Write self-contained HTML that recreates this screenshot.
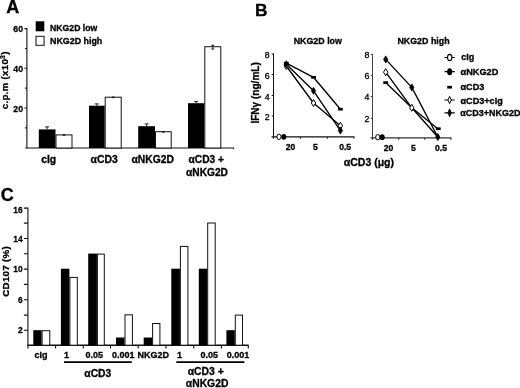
<!DOCTYPE html>
<html><head><meta charset="utf-8"><title>Figure</title>
<style>
html,body{margin:0;padding:0;background:#fff;}
body{width:520px;height:388px;overflow:hidden;}
svg{display:block;filter:blur(0.45px);}
text{font-family:"Liberation Sans",Arial,Helvetica,sans-serif;fill:#000;stroke:#000;stroke-width:0.3px;}
.b{font-weight:bold;}
.ax{stroke:#111;stroke-width:1.1;fill:none;}
.bk{fill:#000;stroke:none;}
.wh{fill:#fff;stroke:#111;stroke-width:1;}
.ln{stroke:#000;stroke-width:1.35;fill:none;stroke-linejoin:round;}
.eb{stroke:#111;stroke-width:0.9;fill:none;}
</style></head>
<body>
<svg width="520" height="388" viewBox="0 0 520 388">
<rect width="520" height="388" fill="#fff"/>
<g id="pA">
<text class="b" transform="translate(6.2,12.5)" font-size="18" text-anchor="start">A</text>
<path class="ax" d="M26.9 28.10V148.0H233.6V149.3"/>
<path class="ax" d="M24.5 108.00H26.9 M24.5 68.30H26.9 M24.5 28.60H26.9 M25.099999999999998 127.85H26.9 M25.099999999999998 88.15H26.9 M25.099999999999998 48.45H26.9 M25.299999999999997 148.0H26.9"/>
<text class="b" transform="translate(23.1,111.8) scale(0.9,1)" font-size="9.8" text-anchor="end">20</text>
<text class="b" transform="translate(23.1,72.1) scale(0.9,1)" font-size="9.8" text-anchor="end">40</text>
<text class="b" transform="translate(23.1,32.4) scale(0.9,1)" font-size="9.8" text-anchor="end">60</text>
<text class="b" transform="translate(7.6,80.3) rotate(-90)" font-size="9.7" text-anchor="middle" letter-spacing="0.3">c.p.m (x10<tspan font-size="6.8" dy="-3">3</tspan><tspan dy="3">)</tspan></text>
<rect class="bk" x="35.7" y="21.3" width="8.6" height="10"/>
<rect class="wh" x="36.0" y="36.4" width="8.1" height="9" style="stroke:#444;stroke-width:1.3"/>
<text class="b" transform="translate(50,30.6)" font-size="8.7" text-anchor="start">NKG2D low</text>
<text class="b" transform="translate(50,44.3)" font-size="8.9" text-anchor="start">NKG2D high</text>
<rect class="bk" x="38.80" y="129.40" width="16.70" height="18.60"/>
<rect class="wh" x="56.00" y="134.90" width="16.00" height="13.10"/>
<rect x="62.7" y="134.3" width="2.6" height="1.5" fill="#111"/>
<rect class="bk" x="89.00" y="105.70" width="15.70" height="42.30"/>
<rect class="wh" x="105.20" y="97.20" width="16.00" height="50.80"/>
<rect x="111.9" y="96.6" width="2.6" height="1.5" fill="#111"/>
<rect class="bk" x="138.20" y="126.20" width="16.80" height="21.80"/>
<rect class="wh" x="155.50" y="131.70" width="15.70" height="16.30"/>
<rect x="162.0" y="131.1" width="2.6" height="1.5" fill="#111"/>
<rect class="bk" x="188.00" y="103.20" width="16.30" height="44.80"/>
<rect class="wh" x="204.80" y="46.70" width="16.00" height="101.30"/>
<path class="eb" d="M47.1 129.4V126.9M45.1 126.9H49.1 M96.8 105.7V103.9M94.8 103.9H98.8 M146.6 126.2V123.9M144.6 123.9H148.6 M196.2 103.2V101.6M194.2 101.6H198.2 M212.8 45.2V49.0M211.2 45.2H214.4M211.2 49.0H214.4"/>
<text class="b" transform="translate(48.7,163.0)" font-size="10.4" text-anchor="middle">cIg</text>
<text class="b" transform="translate(104.1,163.0)" font-size="10.4" text-anchor="middle">αCD3</text>
<text class="b" transform="translate(152.7,162.9)" font-size="10.3" text-anchor="middle">αNKG2D</text>
<text class="b" transform="translate(206.3,162.9)" font-size="10.2" text-anchor="middle">αCD3 +</text>
<text class="b" transform="translate(207,175.8)" font-size="10.2" text-anchor="middle">αNKG2D</text>
</g>
<g id="pB">
<text class="b" transform="translate(255,16.1)" font-size="17.4" text-anchor="start">B</text>
<text class="b" transform="translate(317.8,44.3)" font-size="8.85" text-anchor="middle">NKG2D low</text>
<text class="b" transform="translate(423.5,44.3)" font-size="8.85" text-anchor="middle">NKG2D high</text>
<text class="b" transform="translate(258.8,92.9) rotate(-90)" font-size="10.05" text-anchor="middle">IFNγ (ng/mL)</text>
<text class="b" transform="translate(368.9,166.1)" font-size="10.5" text-anchor="middle">αCD3 (μg)</text>
<path class="ax" d="M273.5 53.5V136.9" style="stroke-width:1"/>
<path class="ax" d="M271.5 136.9H354.4" style="stroke-width:1.3"/>
<path class="ax" d="M271.7 116H273.5 M271.7 95.5H273.5 M271.7 74.5H273.5 M271.7 54H273.5" style="stroke-width:1"/>
<path class="ax" d="M273.5 136.9V138.8 M300.4 136.9V138.8 M327.3 136.9V138.8 M354 136.9V138.8" style="stroke-width:0.9"/>
<text transform="translate(269.7,120.0)" font-size="8.8" text-anchor="end">2</text>
<text transform="translate(269.7,99.5)" font-size="8.8" text-anchor="end">4</text>
<text transform="translate(269.7,78.5)" font-size="8.8" text-anchor="end">6</text>
<text transform="translate(269.7,58.0)" font-size="8.8" text-anchor="end">8</text>
<text class="b" transform="translate(290.5,150.3)" font-size="8.6" text-anchor="middle">20</text>
<text class="b" transform="translate(315.3,150.3)" font-size="8.6" text-anchor="middle">5</text>
<text class="b" transform="translate(345.1,150.3)" font-size="8.6" text-anchor="middle">0.5</text>
<path class="ln" d="M286.3 63.2L313.5 77.3L340.4 109.2"/>
<path class="ln" d="M286.3 66L313.5 103L340.4 125.8"/>
<path class="ln" d="M286.3 64.2L313.5 90.8L340.4 130.6"/>
<path d="M283.90000000000003 63.2H288.7" stroke="#000" stroke-width="2.7"/>
<path d="M311.1 77.3H315.9" stroke="#000" stroke-width="2.7"/>
<path d="M338.0 109.2H342.79999999999995" stroke="#000" stroke-width="2.7"/>
<path d="M286.3 62.5l2.2 3.5l-2.2 3.5l-2.2 -3.5z" fill="#fff" stroke="#000" stroke-width="1"/>
<path d="M313.5 99.5l2.2 3.5l-2.2 3.5l-2.2 -3.5z" fill="#fff" stroke="#000" stroke-width="1"/>
<path d="M340.4 122.3l2.2 3.5l-2.2 3.5l-2.2 -3.5z" fill="#fff" stroke="#000" stroke-width="1"/>
<path d="M286.3 60.7l2.1 3.5l-2.1 3.5l-2.1 -3.5z" fill="#000" stroke="#000" stroke-width="0.8"/>
<path d="M313.5 87.3l2.1 3.5l-2.1 3.5l-2.1 -3.5z" fill="#000" stroke="#000" stroke-width="0.8"/>
<path d="M340.4 127.1l2.1 3.5l-2.1 3.5l-2.1 -3.5z" fill="#000" stroke="#000" stroke-width="0.8"/>
<ellipse cx="279" cy="136.8" rx="2.1" ry="2.7" fill="#fff" stroke="#000" stroke-width="1"/>
<ellipse cx="283.8" cy="136.8" rx="2.5" ry="2.9" fill="#000"/>
<path class="ax" d="M372.5 54.0V137.9" style="stroke:#444;stroke-width:1"/>
<path class="ax" d="M370.5 137.9H451.4" style="stroke:#333;stroke-width:1.1"/>
<path class="ax" d="M370.7 118.5H372.5 M370.7 96.5H372.5 M370.7 75.5H372.5 M370.7 54.5H372.5" style="stroke:#444;stroke-width:1"/>
<path class="ax" d="M372.5 137.9V139.8 M398.7 137.9V139.8 M424.8 137.9V139.8 M451 137.9V139.8" style="stroke-width:0.9"/>
<text transform="translate(369.5,121.60000000000001)" font-size="8.8" text-anchor="end">2</text>
<text transform="translate(369.5,99.60000000000001)" font-size="8.8" text-anchor="end">4</text>
<text transform="translate(369.5,78.60000000000001)" font-size="8.8" text-anchor="end">6</text>
<text transform="translate(369.5,57.6)" font-size="8.8" text-anchor="end">8</text>
<text class="b" transform="translate(388.5,151.4)" font-size="8.6" text-anchor="middle">20</text>
<text class="b" transform="translate(413.4,151.4)" font-size="8.6" text-anchor="middle">5</text>
<text class="b" transform="translate(441,151.4)" font-size="8.6" text-anchor="middle">0.5</text>
<path class="ln" d="M385.7 82.6L411.8 107.8L437.8 128.7"/>
<path class="ln" d="M385.7 72.2L411.8 107.8L437.8 137"/>
<path class="ln" d="M385.7 59.4L411.8 87.4L437.8 137"/>
<path d="M383.3 82.6H388.09999999999997" stroke="#000" stroke-width="2.7"/>
<path d="M435.90000000000003 128.7H440.7" stroke="#000" stroke-width="2.7"/>
<path d="M385.7 68.7l2.2 3.5l-2.2 3.5l-2.2 -3.5z" fill="#fff" stroke="#000" stroke-width="1"/>
<path d="M411.8 104.3l2.2 3.5l-2.2 3.5l-2.2 -3.5z" fill="#fff" stroke="#000" stroke-width="1"/>
<path d="M385.7 55.9l2.1 3.5l-2.1 3.5l-2.1 -3.5z" fill="#000" stroke="#000" stroke-width="0.8"/>
<path d="M411.8 83.9l2.1 3.5l-2.1 3.5l-2.1 -3.5z" fill="#000" stroke="#000" stroke-width="0.8"/>
<path d="M437.8 133.5l2.1 3.5l-2.1 3.5l-2.1 -3.5z" fill="#000" stroke="#000" stroke-width="0.8"/>
<ellipse cx="377.8" cy="137.2" rx="2.1" ry="2.7" fill="#fff" stroke="#000" stroke-width="1"/>
<ellipse cx="382.2" cy="137.2" rx="2.5" ry="2.9" fill="#000"/>
<path class="ax" d="M444.5 57.5H454.8M444.5 71.6H454.8M444.5 100H454.8M444.5 112.8H454.8" style="stroke:#000;stroke-width:1.2"/>
<path d="M447.20000000000005 87.2H452.0" stroke="#000" stroke-width="2.7"/>
<ellipse cx="449.7" cy="57.5" rx="2.2" ry="3.1" fill="#fff" stroke="#000" stroke-width="1.1"/>
<ellipse cx="449.7" cy="71.8" rx="2.6" ry="3.5" fill="#000"/>
<path d="M449.6 96.4l1.7 3.6l-1.7 3.6l-1.7 -3.6z" fill="#fff" stroke="#000" stroke-width="1"/>
<path d="M449.6 108.8l1.7 4.0l-1.7 4.0l-1.7 -4.0z" fill="#000" stroke="#000" stroke-width="0.8"/>
<text class="b" transform="translate(461.3,59.9)" font-size="9.0" text-anchor="start">cIg</text>
<text class="b" transform="translate(460.5,75.4)" font-size="9.2" text-anchor="start">αNKG2D</text>
<text class="b" transform="translate(460.5,90.3)" font-size="9.1" text-anchor="start">αCD3</text>
<text class="b" transform="translate(460.5,104.0)" font-size="9.1" text-anchor="start">αCD3+cIg</text>
<text class="b" transform="translate(460.3,116.1)" font-size="9.0" text-anchor="start">αCD3+NKG2D</text>
</g>
<g id="pC">
<text class="b" transform="translate(0.7,201)" font-size="18" text-anchor="start">C</text>
<path d="M27.9 207.6V345.2" stroke="#111" stroke-width="1.1" fill="none"/>
<path d="M27.4 345.2H248.6" stroke="#111" stroke-width="1.5" fill="none"/>
<path class="ax" d="M23.9 208.1H27.9 M23.9 223.1H27.9 M23.9 238.5H27.9 M23.9 253.8H27.9 M23.9 269.1H27.9 M23.9 284.4H27.9 M23.9 299.8H27.9 M23.9 315.1H27.9 M23.9 330.3H27.9"/>
<path class="ax" d="M27.9 345.2V348.59999999999997 M55.6 345.2V348.59999999999997 M83.2 345.2V348.59999999999997 M110.5 345.2V348.59999999999997 M138.2 345.2V348.59999999999997 M166 345.2V348.59999999999997 M193.7 345.2V348.59999999999997 M221.4 345.2V348.59999999999997 M248.3 345.2V348.59999999999997"/>
<text class="b" transform="translate(22.6,212.7) scale(0.87,1)" font-size="9.7" text-anchor="end">16</text>
<text class="b" transform="translate(22.6,241.5) scale(0.87,1)" font-size="9.7" text-anchor="end">14</text>
<text class="b" transform="translate(22.6,272.1) scale(0.87,1)" font-size="9.7" text-anchor="end">10</text>
<text class="b" transform="translate(22.6,302.8) scale(0.87,1)" font-size="9.7" text-anchor="end">6</text>
<text class="b" transform="translate(22.6,333.3) scale(0.87,1)" font-size="9.7" text-anchor="end">2</text>
<text class="b" transform="translate(8.7,271.5) rotate(-90)" font-size="9.8" text-anchor="middle" textLength="50.5">CD107 (%)</text>
<rect class="bk" x="33.30" y="330.20" width="8.30" height="15.00"/>
<rect class="wh" x="42.10" y="330.70" width="7.70" height="14.50"/>
<rect class="bk" x="60.90" y="268.70" width="8.50" height="76.50"/>
<rect class="wh" x="69.90" y="277.40" width="7.40" height="67.80"/>
<rect class="bk" x="88.20" y="253.60" width="8.70" height="91.60"/>
<rect class="wh" x="97.40" y="254.10" width="6.90" height="91.10"/>
<rect class="bk" x="116.00" y="337.50" width="8.50" height="7.70"/>
<rect class="wh" x="125.00" y="314.80" width="7.40" height="30.40"/>
<rect class="bk" x="143.70" y="337.50" width="8.40" height="7.70"/>
<rect class="wh" x="152.60" y="323.50" width="7.30" height="21.70"/>
<rect class="bk" x="171.30" y="268.70" width="8.60" height="76.50"/>
<rect class="wh" x="180.40" y="246.40" width="7.50" height="98.80"/>
<rect class="bk" x="198.80" y="268.70" width="8.40" height="76.50"/>
<rect class="wh" x="207.70" y="223.00" width="7.50" height="122.20"/>
<rect class="bk" x="226.40" y="330.20" width="8.40" height="15.00"/>
<rect class="wh" x="235.30" y="315.10" width="7.20" height="30.10"/>
<text class="b" transform="translate(41.0,357.5)" font-size="9.0" text-anchor="middle">cIg</text>
<text class="b" transform="translate(66.6,357.5)" font-size="9.0" text-anchor="middle">1</text>
<text class="b" transform="translate(94.2,357.5)" font-size="9.0" text-anchor="middle">0.05</text>
<text class="b" transform="translate(123.2,357.5)" font-size="9.0" text-anchor="middle">0.001</text>
<text class="b" transform="translate(153.3,357.5)" font-size="9.0" text-anchor="middle">NKG2D</text>
<text class="b" transform="translate(179.4,357.5)" font-size="9.0" text-anchor="middle">1</text>
<text class="b" transform="translate(209.3,357.5)" font-size="9.0" text-anchor="middle">0.05</text>
<text class="b" transform="translate(238.0,357.5)" font-size="9.0" text-anchor="middle">0.001</text>
<path stroke="#000" stroke-width="1.7" d="M64.0 362.2H131.8M176.3 362.2H244.4"/>
<text class="b" transform="translate(97.8,377)" font-size="10.3" text-anchor="middle">αCD3</text>
<text class="b" transform="translate(205.7,375.3)" font-size="10.4" text-anchor="middle">αCD3 +</text>
<text class="b" transform="translate(207.1,387.1)" font-size="10.35" text-anchor="middle">αNKG2D</text>
</g>
</svg>
</body></html>
